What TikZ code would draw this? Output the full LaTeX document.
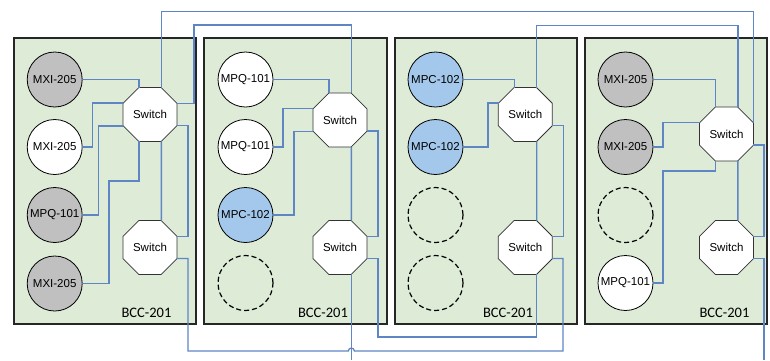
\documentclass[tikz,border=0pt]{standalone}
\usepackage{fontspec}
\setmainfont{Liberation Sans}
\newfontfamily\carlito{Carlito}
\usetikzlibrary{shapes.geometric,calc}
\definecolor{panelfill}{HTML}{DDEBD7}
\definecolor{wire}{HTML}{5F86C4}
\definecolor{grayc}{HTML}{C0C0C0}
\definecolor{bluec}{HTML}{A3C8EC}
\tikzset{
 panel/.style={rectangle, draw=black!85, line width=1.2pt, fill=panelfill, inner sep=0pt, outer sep=0pt},
 dev/.style={circle, draw=black, line width=0.8pt, minimum size=55pt, inner sep=0pt, outer sep=0pt, font=\fontsize{11.5}{12}\selectfont},
 devgray/.style={dev, fill=grayc},
 devwhite/.style={dev, fill=white},
 devblue/.style={dev, fill=bluec},
 emptyslot/.style={dev, dash pattern=on 5pt off 3pt, line width=1.2pt},
 switchbox/.style={regular polygon, regular polygon sides=8, minimum size=58.4pt, inner sep=0pt, outer sep=0pt, draw=black!80, line width=0.8pt, fill=white, font=\fontsize{11.5}{12}\selectfont},
 wirel/.style={draw=wire, line width=1.3pt},
 lbl/.style={font=\carlito\fontsize{14.5}{15}\selectfont, inner sep=0pt}
}
\begin{document}
\begin{tikzpicture}[x=1pt,y=-1pt]
\useasboundingbox (0,0) rectangle (770,360);
% panels
\node[panel, minimum width=182pt, minimum height=286pt] (p1) at (105,181) {};
\node[panel, minimum width=183pt, minimum height=286pt] (p2) at (295.5,181) {};
\node[panel, minimum width=182pt, minimum height=286pt] (p3) at (486,181) {};
\node[panel, minimum width=182pt, minimum height=286pt] (p4) at (676,181) {};
\node[lbl] (l1) at (146.5,313) {BCC-201};
\node[lbl] (l2) at (323,313) {BCC-201};
\node[lbl] (l3) at (508,313) {BCC-201};
\node[lbl] (l4) at (724.5,313) {BCC-201};
% devices
\node[devgray]  (a1) at (54.7,79.5) {MXI-205};
\node[devwhite] (a2) at (54.7,147) {MXI-205};
\node[devgray]  (a3) at (54.7,215) {MPQ-101};
\node[devgray]  (a4) at (54.7,283.5) {MXI-205};
\node[devwhite] (b1) at (245.5,79.5) {MPQ-101};
\node[devwhite] (b2) at (245.5,147) {MPQ-101};
\node[devblue]  (b3) at (245.5,215) {MPC-102};
\node[emptyslot] (b4) at (245.5,283) {};
\node[devblue]  (c1) at (435.5,79.5) {MPC-102};
\node[devblue]  (c2) at (435.5,147) {MPC-102};
\node[emptyslot] (c3) at (435.5,215) {};
\node[emptyslot] (c4) at (435.5,283) {};
\node[devgray]  (d1) at (625.5,79.5) {MXI-205};
\node[devgray]  (d2) at (625.5,147) {MXI-205};
\node[emptyslot] (d3) at (625.5,215) {};
\node[devwhite] (d4) at (625.5,283) {MPQ-101};
% switches
\node[switchbox] (s1t) at (150,114.5) {Switch};
\node[switchbox] (s1b) at (150,247.5) {Switch};
\node[switchbox] (s2t) at (340,120) {Switch};
\node[switchbox] (s2b) at (340,247.5) {Switch};
\node[switchbox] (s3t) at (525.3,114.5) {Switch};
\node[switchbox] (s3b) at (525.3,247.5) {Switch};
\node[switchbox] (s4t) at (726.5,134) {Switch};
\node[switchbox] (s4b) at (726.5,247.5) {Switch};
\path (s2b.-67.5 |- 0,360) coordinate (e1);
\coordinate (e2) at (764,360);
% panel 1 wires
\draw[wirel] (a1.east) -| (s1t.112.5);
\draw[wirel] (a2.east) -- ++(10,0) |- (s1t.157.5);
\draw[wirel] (a3.east) -- ++(16,0) |- (s1t.-157.5);
\draw[wirel] (a4.east) -| (109,181) -| (s1t.-112.5);
\draw[wirel] (s1t.-67.5) -- (s1b.67.5);
\draw[wirel] (s1t.-22.5) -- ++(11,0) |- (s1b.22.5);
\draw[wirel] (s1t.67.5) -- ++(0,-76) -| (s4t.22.5);
\draw[wirel] (s1t.22.5) -| (194,25) -| (s2t.67.5);
\draw[wirel] (s1b.-22.5) -| (188,351) -- ($(e1 |- 0,351)+(-3,0)$) arc[start angle=180,end angle=360,radius=3] -- (563,351) |- (s3b.-22.5);
% panel 2 wires
\draw[wirel] (b1.east) -| (s2t.112.5);
\draw[wirel] (b2.east) -- ++(10,0) |- (s2t.157.5);
\draw[wirel] (b3.east) -- ++(21,0) |- (s2t.-157.5);
\draw[wirel] (s2t.-67.5) -- (s2b.67.5);
\draw[wirel] (s2t.-22.5) -- ++(11,0) |- (s2b.22.5);
\draw[wirel] (s2b.-22.5) -| (378,337) -| (s3b.-67.5);
\draw[wirel] (s2b.-67.5) -- (e1);
% panel 3 wires
\draw[wirel] (c1.east) -| (s3t.112.5);
\draw[wirel] (c2.east) -- ++(25,0) |- (s3t.157.5);
\draw[wirel] (s3t.-67.5) -- (s3b.67.5);
\draw[wirel] (s3t.-22.5) -- ++(11,0) |- (s3b.22.5);
\draw[wirel] (s3t.67.5) -- ++(0,-62) -| (s4t.67.5);
% panel 4 wires
\draw[wirel] (d1.east) -| (s4t.112.5);
\draw[wirel] (d2.east) -- ++(10,0) |- (s4t.157.5);
\draw[wirel] (d4.east) -| (663,171) -| (s4t.-112.5);
\draw[wirel] (s4t.-67.5) -- (s4b.67.5);
\draw[wirel] (s4t.-22.5) -- ++(10.5,0) |- (s4b.22.5);
\draw[wirel] (s4b.-22.5) -| (e2);
\end{tikzpicture}
\end{document}
